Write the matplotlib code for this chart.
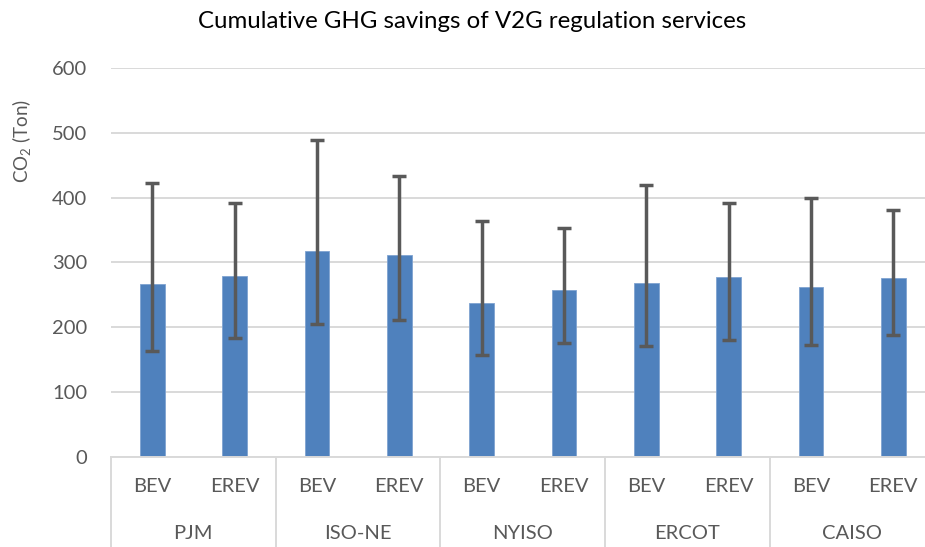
import numpy as np
import matplotlib
matplotlib.use("Agg")
import matplotlib.pyplot as plt
import matplotlib.transforms as mtransforms

# values (CO2 tons)
regions  = ["PJM", "ISO-NE", "NYISO", "ERCOT", "CAISO"]
vehicles = ["BEV", "EREV"]
means    = [266, 279, 317, 312, 237, 257, 268, 277, 262, 275]
upper    = [422, 391, 489, 434, 364, 353, 419, 391, 400, 380]
lower    = [163, 183, 205, 211, 157, 176, 171, 180, 172, 187]

plt.rcParams["font.family"] = ["Lato", "DejaVu Sans"]
plt.rcParams["mathtext.fontset"] = "custom"
plt.rcParams["mathtext.rm"] = "Lato"

GRAY = "#595959"
GRID = "#d9d9d9"
BLUE = "#4f81bd"

fig = plt.figure(figsize=(9.25, 5.47), dpi=100)
ax = fig.add_axes([111/925, 1 - 456.6/547, 823.5/925, 388.6/547])

x = np.arange(len(means))
means_a = np.array(means)
yerr = [means_a - np.array(lower), np.array(upper) - means_a]
ax.bar(x, means, width=0.30, color=BLUE, edgecolor="#7fa3d1", linewidth=0.6, zorder=2)
ax.errorbar(x, means, yerr=yerr, fmt="none", ecolor=GRAY, elinewidth=2.5,
            capsize=4.8, capthick=2.5, zorder=3)

ax.set_xlim(-0.5, len(means) - 0.5)
ax.set_ylim(0, 600)
ax.set_yticks(range(0, 601, 100))
ax.yaxis.grid(True, color=GRID, linewidth=1.4, zorder=0)
ax.set_axisbelow(True)
for s in ["top", "right", "left"]:
    ax.spines[s].set_visible(False)
ax.spines["bottom"].set_color(GRID)
ax.spines["bottom"].set_linewidth(1.4)
ax.tick_params(axis="y", length=0, pad=17, labelsize=14.5, labelcolor=GRAY)
ax.set_xticks([])

# two-level category axis
trans = mtransforms.blended_transform_factory(ax.transData, ax.transAxes)
for k in range(len(regions)):
    ax.plot([2*k - 0.5, 2*k - 0.5], [0, -0.25], transform=trans, color=GRID,
            linewidth=1.4, clip_on=False)
    ax.text(2*k + 0.5, -0.197, regions[k], transform=trans, ha="center",
            va="center", fontsize=14.5, color=GRAY)
for i in x:
    ax.text(i, -0.078, vehicles[i % 2], transform=trans, ha="center",
            va="center", fontsize=14.5, color=GRAY)

fig.text(22/925, 1 - 141/547, r"CO$_2$ (Ton)", rotation=90, ha="center",
         va="center", fontsize=13.5, color=GRAY)
fig.text(472/925, 1 - 21/547, "Cumulative GHG savings of V2G regulation services",
         ha="center", va="center", fontsize=17.3, color="black")

fig.savefig("out.png", dpi=100)
